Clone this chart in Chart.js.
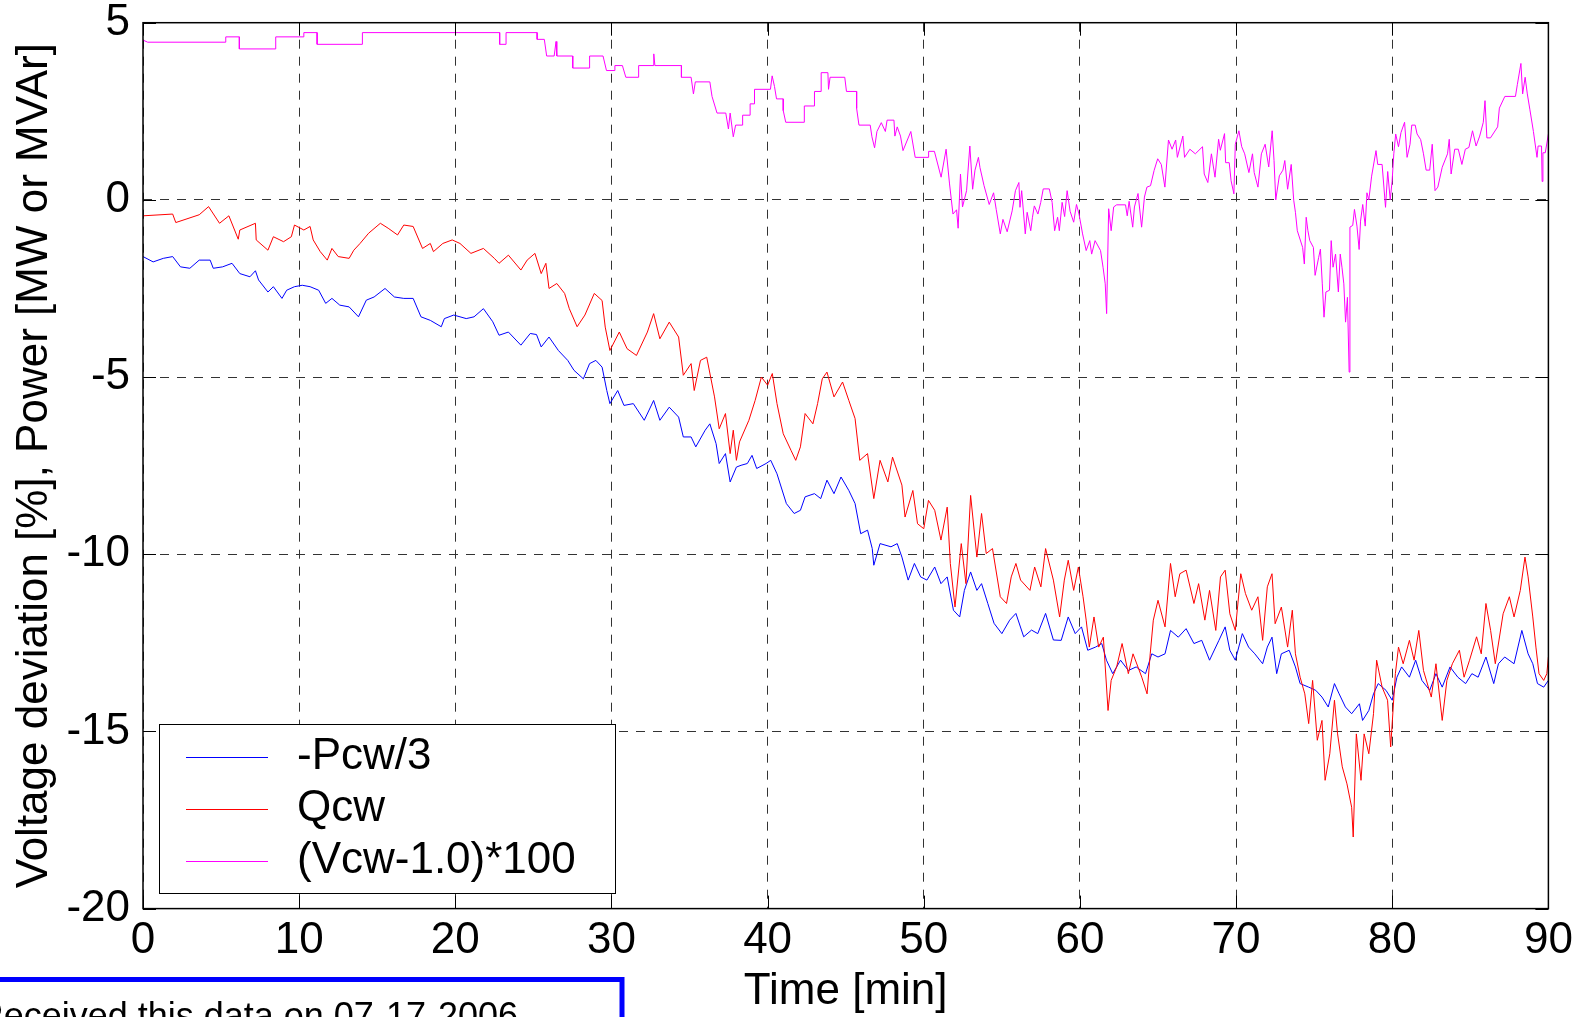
<!DOCTYPE html>
<html>
<head>
<meta charset="utf-8">
<script src="https://cdn.jsdelivr.net/npm/chart.js@4.4.1/dist/chart.umd.min.js"></script>
<style>
  html, body { margin: 0; padding: 0; background: #fff; overflow: hidden; }
  #wrap { position: relative; width: 1581px; height: 1017px; }
</style>
</head>
<body>
<div id="wrap"><canvas id="myChart" width="1581" height="1017"></canvas></div>
<script>
const FONT = '"Liberation Sans", Arial, Helvetica, sans-serif';

const xTickVals = [0, 10, 20, 30, 40, 50, 60, 70, 80, 90];
const yTickVals = [-20, -15, -10, -5, 0, 5];
const seriesLabels = ['-Pcw/3', 'Qcw', '(Vcw-1.0)*100'];

// [time min, value]
const pcwSamples = [
  [0, -1.6], [0.65, -1.75], [1.3, -1.65], [1.9, -1.6], [2.4, -1.89], [3.0, -1.93], [3.6, -1.7], [4.3, -1.7],
  [4.5, -1.93], [5.1, -1.89], [5.7, -1.79], [6.2, -2.08], [6.85, -2.17], [7.2, -2.0], [7.4, -2.26], [8.0, -2.6],
  [8.35, -2.45], [8.9, -2.78], [9.2, -2.55], [9.7, -2.45], [10.2, -2.41], [10.7, -2.45], [11.25, -2.55], [11.7, -2.92],
  [12.1, -2.78], [12.6, -2.97], [13.2, -3.02], [13.8, -3.3], [14.3, -2.83], [14.8, -2.74], [15.5, -2.5], [16.1, -2.74],
  [16.7, -2.78], [17.3, -2.78], [17.8, -3.3], [18.4, -3.4], [19.1, -3.58], [19.3, -3.35], [19.9, -3.25], [20.7, -3.35],
  [21.2, -3.3], [21.8, -3.07], [22.4, -3.44], [22.8, -3.82], [23.4, -3.73], [24.2, -4.1], [24.8, -3.77], [25.2, -3.8],
  [25.5, -4.15], [26.0, -3.87], [26.6, -4.25], [27.2, -4.53], [27.6, -4.81], [28.2, -5.05], [28.6, -4.62], [29.0, -4.53],
  [29.4, -4.72], [29.7, -5.38], [29.9, -5.75], [30.4, -5.38], [30.8, -5.8], [31.4, -5.75], [32.1, -6.22], [32.7, -5.66],
  [33.1, -6.22], [33.7, -5.85], [34.3, -6.13], [34.6, -6.69], [35.1, -6.69], [35.4, -6.97], [36.0, -6.5], [36.3, -6.32],
  [36.7, -6.88], [36.9, -7.44], [37.3, -7.16], [37.6, -7.96], [38.0, -7.54], [38.3, -7.49], [38.7, -7.44], [39.0, -7.21],
  [39.3, -7.58], [39.9, -7.44], [40.2, -7.35], [40.6, -7.73], [41.2, -8.57], [41.7, -8.85], [42.1, -8.76], [42.4, -8.38],
  [43.0, -8.29], [43.4, -8.43], [43.8, -7.91], [44.25, -8.29], [44.7, -7.82], [45.2, -8.2], [45.6, -8.57], [45.96, -9.42],
  [46.4, -9.32], [46.7, -9.84], [46.8, -10.31], [47.2, -9.7], [47.9, -9.79], [48.3, -9.7], [48.6, -10.08], [49.0, -10.73],
  [49.4, -10.26], [49.8, -10.64], [50.2, -10.73], [50.7, -10.36], [51.1, -10.83], [51.5, -10.64], [51.9, -11.58], [52.3, -11.77],
  [52.6, -11.02], [53.0, -10.5], [53.4, -11.02], [53.7, -10.83], [54.1, -11.39], [54.5, -11.95], [55.0, -12.24], [55.5, -11.86],
  [55.9, -11.67], [56.4, -12.33], [56.9, -12.14], [57.3, -12.24], [57.8, -11.67], [58.3, -12.42], [58.8, -12.43], [59.25, -11.77],
  [59.7, -12.24], [60.1, -12.05], [60.5, -12.71], [61.0, -12.62], [61.4, -12.52], [61.7, -12.99], [62.1, -13.37], [62.6, -12.99],
  [63.1, -13.28], [63.6, -13.18], [64.2, -13.37], [64.6, -12.81], [65.0, -12.9], [65.45, -12.81], [65.8, -12.15], [66.3, -12.34],
  [66.8, -12.1], [67.3, -12.52], [67.8, -12.43], [68.3, -12.99], [68.9, -12.43], [69.3, -12.05], [69.6, -12.71], [69.95, -12.99],
  [70.4, -12.24], [70.8, -12.62], [71.2, -12.81], [71.7, -13.09], [72.0, -12.62], [72.3, -12.34], [72.6, -13.37], [72.9, -12.81],
  [73.4, -12.71], [73.8, -13.18], [74.1, -13.65], [74.65, -13.75], [75.1, -13.84], [75.5, -14.03], [75.9, -14.31], [76.3, -13.65],
  [76.6, -13.94], [77.0, -14.31], [77.4, -14.5], [77.9, -14.22], [78.1, -14.69], [78.5, -14.41], [78.8, -13.94], [79.1, -13.65],
  [79.6, -13.84], [80.0, -14.12], [80.3, -13.47], [80.6, -13.18], [81.1, -13.47], [81.5, -12.99], [81.9, -13.56], [82.4, -13.84],
  [82.8, -13.37], [83.2, -13.75], [83.7, -13.18], [84.2, -13.47], [84.7, -13.65], [85.1, -13.37], [85.5, -13.47], [86.0, -12.9],
  [86.5, -13.65], [86.8, -13.09], [87.2, -12.9], [87.8, -13.09], [88.3, -12.15], [88.7, -12.81], [89.0, -13.09], [89.3, -13.65],
  [89.7, -13.75], [90.0, -13.56]
];

const qcwSamples = [
  [0, -0.45], [1.9, -0.4], [2.1, -0.64], [3.6, -0.42], [4.2, -0.19], [4.9, -0.66], [5.5, -0.45], [6.1, -1.11],
  [6.2, -0.85], [7.2, -0.66], [7.25, -1.13], [8.0, -1.42], [8.35, -1.04], [9.0, -1.18], [9.5, -1.04], [9.7, -0.71],
  [10.3, -0.85], [10.7, -0.75], [10.9, -1.13], [11.35, -1.46], [11.8, -1.7], [12.1, -1.37], [12.5, -1.6], [13.2, -1.65],
  [13.5, -1.42], [13.9, -1.23], [14.45, -0.94], [15.2, -0.66], [15.7, -0.8], [16.3, -0.99], [16.7, -0.71], [17.3, -0.75],
  [17.9, -1.37], [18.4, -1.23], [18.6, -1.46], [19.2, -1.23], [19.8, -1.13], [20.3, -1.23], [21.0, -1.51], [21.8, -1.37],
  [22.5, -1.65], [22.8, -1.79], [23.4, -1.56], [24.2, -1.98], [24.6, -1.7], [25.1, -1.51], [25.5, -2.08], [25.8, -1.79],
  [26.0, -2.5], [26.5, -2.36], [27.0, -2.64], [27.3, -3.07], [27.8, -3.58], [28.3, -3.25], [28.9, -2.64], [29.4, -2.84],
  [29.6, -3.59], [29.9, -4.25], [30.5, -3.73], [31.0, -4.2], [31.6, -4.39], [32.3, -3.73], [32.7, -3.21], [33.1, -3.92],
  [33.7, -3.45], [34.3, -3.87], [34.6, -4.95], [35.1, -4.62], [35.3, -5.38], [35.7, -4.53], [36.1, -4.44], [36.6, -5.56],
  [36.9, -6.46], [37.3, -6.03], [37.6, -7.16], [37.8, -6.5], [38.0, -7.35], [38.2, -6.83], [38.8, -6.22], [39.2, -5.66],
  [39.6, -5.0], [40.0, -5.23], [40.3, -4.9], [40.6, -5.75], [41.0, -6.6], [41.5, -7.07], [41.8, -7.35], [42.1, -6.97],
  [42.4, -6.03], [42.9, -6.32], [43.2, -5.75], [43.5, -5.05], [43.8, -4.86], [44.25, -5.56], [44.8, -5.14], [45.2, -5.66],
  [45.6, -6.17], [45.9, -7.35], [46.4, -7.16], [46.8, -8.43], [47.2, -7.35], [47.7, -7.96], [48.0, -7.26], [48.6, -8.05],
  [48.8, -8.95], [49.3, -8.2], [49.6, -9.14], [50.0, -9.28], [50.3, -8.48], [50.7, -8.76], [51.1, -9.6], [51.5, -8.67],
  [51.7, -10.26], [52.0, -11.49], [52.4, -9.7], [52.7, -10.83], [53.0, -8.34], [53.4, -10.08], [53.7, -8.85], [54.0, -9.98],
  [54.4, -9.84], [54.9, -11.2], [55.3, -11.39], [55.6, -10.64], [55.9, -10.26], [56.2, -10.73], [56.8, -11.02], [57.1, -10.36],
  [57.5, -10.92], [57.8, -9.84], [58.3, -10.73], [58.7, -11.77], [59.0, -10.73], [59.25, -10.17], [59.6, -11.02], [59.9, -10.36],
  [60.2, -11.2], [60.4, -11.86], [60.6, -12.62], [60.9, -11.77], [61.2, -12.62], [61.5, -12.34], [61.8, -14.41], [62.0, -13.56],
  [62.35, -13.18], [62.7, -12.52], [63.1, -13.37], [63.4, -12.81], [63.96, -13.47], [64.3, -13.94], [64.5, -12.81], [64.7, -11.86],
  [65.0, -11.3], [65.45, -12.05], [65.8, -10.26], [66.1, -11.2], [66.4, -10.55], [66.8, -10.45], [67.3, -11.39], [67.6, -10.83],
  [68.0, -11.86], [68.3, -11.02], [68.7, -12.15], [69.0, -10.64], [69.3, -10.45], [69.6, -11.68], [69.95, -12.15], [70.3, -10.55],
  [70.6, -11.11], [71.0, -11.58], [71.4, -11.2], [71.7, -12.43], [72.0, -10.92], [72.3, -10.55], [72.5, -11.96], [72.9, -11.49],
  [73.3, -12.62], [73.6, -11.58], [73.8, -12.81], [74.1, -13.47], [74.4, -13.94], [74.65, -14.78], [74.9, -13.56], [75.2, -15.25],
  [75.5, -14.69], [75.7, -16.38], [76.0, -15.63], [76.3, -14.12], [76.5, -15.07], [76.8, -16.0], [77.1, -16.48], [77.4, -17.14],
  [77.5, -17.98], [77.7, -15.07], [78.0, -16.38], [78.2, -15.07], [78.5, -15.63], [78.8, -14.5], [79.0, -12.99], [79.35, -13.75],
  [79.7, -14.12], [79.9, -15.44], [80.2, -13.37], [80.4, -12.62], [80.7, -13.09], [81.1, -12.43], [81.4, -12.99], [81.7, -12.15],
  [82.0, -13.28], [82.5, -14.03], [82.8, -13.09], [83.2, -14.69], [83.5, -13.56], [83.85, -13.09], [84.3, -12.71], [84.6, -13.47],
  [84.95, -12.99], [85.4, -12.33], [85.7, -12.81], [86.0, -11.39], [86.3, -12.15], [86.6, -13.09], [87.1, -11.68], [87.5, -11.2],
  [87.8, -11.77], [88.2, -11.02], [88.5, -10.08], [88.7, -10.64], [89.0, -11.77], [89.2, -12.62], [89.4, -13.37], [89.7, -13.56],
  [89.9, -13.37], [90.0, -12.9]
];

const vcwSamples = [
  [0, 4.51], [0.3, 4.45], [5.3, 4.45], [5.3, 4.6], [6.17, 4.6], [6.17, 4.26], [8.5, 4.26], [8.5, 4.6],
  [10.3, 4.6], [10.3, 4.72], [11.15, 4.72], [11.15, 4.39], [14.05, 4.39], [14.05, 4.72], [22.84, 4.72], [22.84, 4.39],
  [23.25, 4.39], [23.25, 4.72], [25.24, 4.72], [25.24, 4.53], [25.7, 4.53], [25.85, 4.06], [26.33, 4.06], [26.45, 4.47],
  [26.5, 4.06], [27.52, 4.06], [27.52, 3.72], [28.6, 3.72], [28.6, 4.06], [29.46, 4.06], [29.68, 3.65], [30.22, 3.65],
  [30.22, 3.79], [30.7, 3.79], [30.92, 3.46], [31.74, 3.46], [31.74, 3.79], [32.71, 3.79], [32.71, 4.12], [32.78, 3.79],
  [34.48, 3.79], [34.48, 3.46], [35.1, 3.46], [35.25, 2.99], [35.37, 3.33], [36.3, 3.33], [36.44, 2.92], [36.76, 2.45],
  [37.32, 2.45], [37.49, 2.0], [37.6, 2.45], [37.8, 1.78], [37.95, 2.11], [38.4, 2.11], [38.4, 2.39], [38.88, 2.39],
  [38.88, 2.71], [39.16, 2.71], [39.16, 3.12], [40.18, 3.12], [40.29, 3.5], [40.44, 3.2], [40.57, 2.85], [41.0, 2.85],
  [41.0, 2.52], [41.16, 2.19], [42.35, 2.19], [42.35, 2.65], [43.0, 2.65], [43.0, 3.06], [43.43, 3.06], [43.43, 3.59],
  [43.86, 3.59], [43.9, 3.12], [44.0, 3.46], [44.94, 3.46], [45.05, 3.06], [45.7, 3.06], [45.7, 2.58], [45.85, 2.11],
  [46.57, 2.11], [46.68, 1.78], [46.85, 1.47], [47.0, 1.93], [47.28, 2.18], [47.54, 1.93], [47.65, 2.25], [48.09, 2.25],
  [48.15, 1.8], [48.3, 2.06], [48.51, 1.8], [48.67, 1.39], [49.17, 1.93], [49.45, 1.2], [50.31, 1.2], [50.31, 1.37],
  [50.68, 1.37], [51.11, 0.64], [51.43, 1.43], [51.65, 0.45], [51.87, -0.4], [52.1, -0.28], [52.2, -0.8], [52.35, 0.73],
  [52.48, -0.2], [52.74, 0.26], [52.95, 1.52], [53.13, 0.3], [53.28, 0.84], [53.5, 1.2], [53.6, 0.91], [53.86, 0.4],
  [54.19, -0.13], [54.47, 0.2], [54.64, -0.27], [54.9, -0.96], [55.07, -0.55], [55.34, -0.9], [55.66, -0.31], [55.87, 0.26],
  [56.09, 0.49], [56.16, -0.21], [56.27, 0.26], [56.5, -0.96], [56.62, -0.35], [56.85, -0.87], [56.96, -0.49], [57.08, -0.17],
  [57.31, -0.4], [57.49, -0.07], [57.65, 0.31], [58.04, 0.31], [58.22, -0.07], [58.38, -0.87], [58.57, -0.49], [58.68, -0.87],
  [58.86, -0.07], [59.02, -0.47], [59.18, 0.26], [59.37, -0.32], [59.6, -0.63], [59.78, -0.13], [59.94, -0.4], [60.17, -0.96],
  [60.4, -1.43], [60.63, -1.15], [60.75, -1.53], [60.97, -1.15], [61.32, -1.43], [61.48, -1.9], [61.62, -2.37], [61.71, -3.21],
  [61.84, -0.25], [62.0, -0.87], [62.16, -0.2], [62.35, -0.14], [62.92, -0.14], [63.03, -0.45], [63.15, -0.04], [63.38, -0.77],
  [63.49, -0.2], [63.72, 0.18], [63.95, -0.77], [64.13, 0.08], [64.29, 0.36], [64.52, 0.4], [64.75, 0.83], [64.98, 1.16],
  [65.21, 1.0], [65.44, 0.36], [65.67, 1.69], [65.9, 1.43], [66.13, 1.69], [66.24, 1.2], [66.59, 1.8], [66.7, 1.2],
  [67.04, 1.43], [67.39, 1.3], [67.85, 1.5], [67.96, 0.73], [68.19, 0.49], [68.42, 1.3], [68.65, 0.64], [68.88, 1.71],
  [68.99, 1.4], [69.26, 1.87], [69.33, 1.05], [69.56, 1.05], [69.68, 0.54], [69.86, 0.17], [69.95, 1.57], [70.18, 1.95],
  [70.36, 1.5], [70.55, 1.3], [70.82, 0.77], [71.05, 1.3], [71.16, 0.77], [71.4, 0.36], [71.62, 1.3], [71.86, 1.57],
  [72.09, 0.93], [72.31, 1.95], [72.43, 1.11], [72.54, 0.0], [72.77, 0.68], [73.0, 0.84], [73.12, 1.11], [73.3, 0.3],
  [73.53, 1.0], [73.69, -0.01], [73.8, -0.35], [73.92, -0.87], [74.26, -1.34], [74.37, -1.81], [74.49, -0.49], [74.6, -0.87],
  [74.72, -1.15], [74.95, -1.34], [75.06, -2.13], [75.29, -1.62], [75.4, -1.39], [75.52, -2.37], [75.63, -3.31], [75.75, -2.6],
  [75.98, -2.55], [76.09, -1.15], [76.21, -1.9], [76.37, -1.53], [76.55, -2.6], [76.67, -1.53], [76.78, -1.9], [76.9, -2.37],
  [77.01, -3.45], [77.13, -2.75], [77.24, -4.86], [77.29, -0.77], [77.47, -0.72], [77.58, -0.27], [77.74, -0.74], [77.88, -1.4],
  [77.97, -0.6], [78.11, -0.13], [78.27, -0.74], [78.38, 0.2], [78.5, 0.0], [78.68, 0.67], [78.96, 1.39], [79.07, 1.0],
  [79.35, 1.0], [79.57, -0.21], [79.71, 0.8], [79.87, 0.0], [79.99, 0.52], [80.1, 1.3], [80.22, 1.86], [80.4, 1.5],
  [80.56, 1.9], [80.79, 2.19], [80.95, 1.2], [81.14, 1.57], [81.25, 2.11], [81.47, 2.11], [81.59, 1.86], [81.82, 1.7],
  [82.0, 1.3], [82.17, 0.84], [82.4, 0.84], [82.56, 1.57], [82.74, 0.26], [82.92, 0.36], [83.2, 0.92], [83.54, 1.3],
  [83.65, 1.71], [83.77, 0.73], [84.0, 1.43], [84.23, 1.43], [84.46, 1.0], [84.68, 1.43], [84.91, 1.48], [85.14, 1.95],
  [85.37, 1.52], [85.6, 1.8], [85.83, 2.19], [85.94, 2.8], [86.06, 1.75], [86.29, 1.75], [86.75, 2.06], [86.86, 2.59],
  [87.21, 2.92], [87.89, 2.92], [88.01, 3.25], [88.24, 3.85], [88.35, 2.99], [88.51, 3.46], [88.65, 2.99], [88.81, 2.56],
  [89.04, 1.93], [89.27, 1.2], [89.34, 1.52], [89.56, 1.52], [89.6, 0.52], [89.65, 1.33], [89.8, 1.33], [90.0, 1.86]
];

const toXY = rows => rows.map(r => ({ x: r[0], y: r[1] }));

const data = {
  datasets: [
    { label: seriesLabels[0], data: toXY(pcwSamples), borderColor: '#0000ff', order: 3 },
    { label: seriesLabels[1], data: toXY(qcwSamples), borderColor: '#ff0000', order: 2 },
    { label: seriesLabels[2], data: toXY(vcwSamples), borderColor: '#ff00ff', order: 1 }
  ]
};

// matlab style box, inward ticks, legend and the note box
const frame = {
  id: 'frame',
  afterDraw(chart) {
    const { ctx, chartArea: a } = chart;
    const sx = chart.scales.x, sy = chart.scales.y;
    ctx.save();
    ctx.strokeStyle = '#000';
    ctx.lineWidth = 1;
    ctx.beginPath();
    xTickVals.forEach(v => {
      const px = Math.round(sx.getPixelForValue(v)) + 0.5;
      ctx.moveTo(px, a.bottom); ctx.lineTo(px, a.bottom - 13);
      ctx.moveTo(px, a.top); ctx.lineTo(px, a.top + 13);
    });
    yTickVals.forEach(v => {
      const py = Math.round(sy.getPixelForValue(v)) + 0.5;
      ctx.moveTo(a.left, py); ctx.lineTo(a.left + 13, py);
      ctx.moveTo(a.right, py); ctx.lineTo(a.right - 13, py);
    });
    ctx.stroke();
    ctx.lineWidth = 1.5;
    ctx.strokeRect(a.left, a.top, a.right - a.left, a.bottom - a.top);

    // legend
    ctx.fillStyle = '#fff';
    ctx.fillRect(159, 724, 456, 169);
    ctx.lineWidth = 1;
    ctx.strokeStyle = '#000';
    ctx.strokeRect(159.5, 724.5, 456, 169);
    ctx.font = '44px ' + FONT;
    ctx.textBaseline = 'middle';
    ctx.textAlign = 'left';
    chart.data.datasets.forEach((ds, i) => {
      const y = 757 + i * 52;
      ctx.strokeStyle = ds.borderColor;
      ctx.beginPath();
      ctx.moveTo(186, y + 0.5); ctx.lineTo(268, y + 0.5);
      ctx.stroke();
      ctx.fillStyle = '#000';
      ctx.fillText(ds.label, 297, y);
    });

    // note box, partly off the page
    ctx.strokeStyle = '#0000ff';
    ctx.lineWidth = 5;
    ctx.strokeRect(-10, 979.5, 632, 100);
    ctx.fillStyle = '#000';
    ctx.font = '36px ' + FONT;
    ctx.textAlign = 'right';
    ctx.textBaseline = 'alphabetic';
    ctx.fillText('Received this data on 07-17-2006', 518, 1028);
    ctx.restore();
  }
};

const tickFont = { family: FONT, size: 44, lineHeight: 1 };

new Chart(document.getElementById('myChart'), {
  type: 'line',
  data: data,
  plugins: [frame],
  options: {
    responsive: false,
    animation: false,
    devicePixelRatio: 1,
    layout: { padding: { top: 22.7, right: 32.6, bottom: 0, left: 0 } },
    plugins: { legend: { display: false }, tooltip: { enabled: false } },
    elements: {
      point: { radius: 0 },
      line: { borderWidth: 1, tension: 0, fill: false }
    },
    scales: {
      x: {
        type: 'linear',
        min: 0,
        max: 90,
        afterBuildTicks: s => { s.ticks = xTickVals.map(v => ({ value: v })); },
        afterFit: s => { s.height = 108.4; s.paddingLeft = 0; s.paddingRight = 0; },
        ticks: { color: '#000', font: tickFont, padding: 10, maxRotation: 0, autoSkip: false },
        grid: { color: '#333', lineWidth: 1, drawTicks: false },
        border: { display: false, dash: [9, 8] },
        title: {
          display: true, text: 'Time [min]', color: '#000',
          font: { family: FONT, size: 44, lineHeight: 1 },
          padding: { top: 0, bottom: 3 }
        }
      },
      y: {
        type: 'linear',
        min: -20,
        max: 5,
        afterBuildTicks: s => { s.ticks = yTickVals.map(v => ({ value: v })); },
        afterFit: s => { s.width = 143; s.paddingTop = 0; s.paddingBottom = 0; },
        ticks: { color: '#000', font: tickFont, padding: 13 },
        grid: { color: '#333', lineWidth: 1, drawTicks: false },
        border: { display: false, dash: [9, 8] },
        title: {
          display: true, text: 'Voltage deviation [%], Power [MW or MVAr]', color: '#000',
          font: { family: FONT, size: 44, lineHeight: 1 },
          padding: { top: 12.8, bottom: 0 }
        }
      }
    }
  }
});
</script>
</body>
</html>
